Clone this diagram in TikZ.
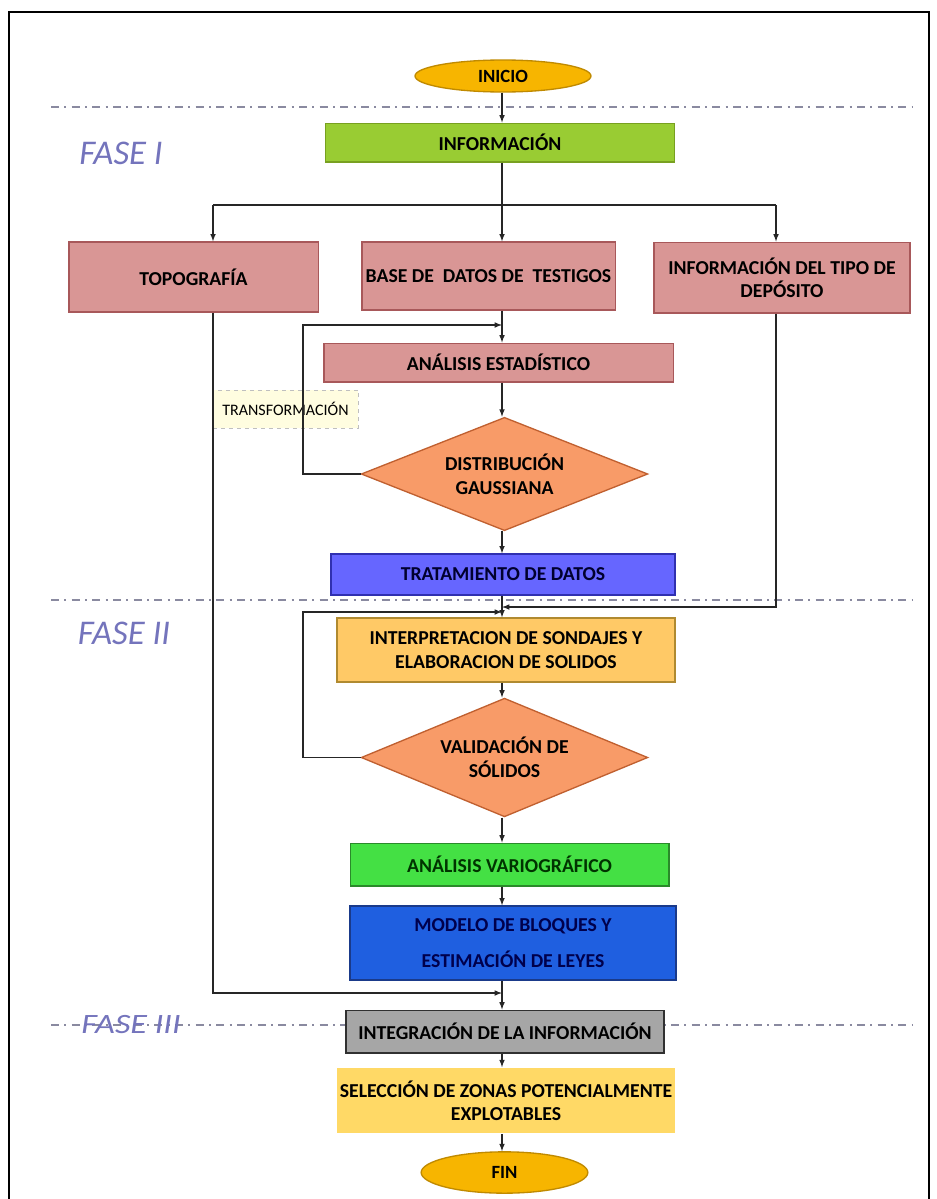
\documentclass[tikz,border=0pt]{standalone}
\usepackage{fontspec}
\setmainfont{Carlito}
\usetikzlibrary{positioning,shapes.geometric,arrows}

\definecolor{cini}{HTML}{F7B500}
\definecolor{cinib}{HTML}{C08A00}
\definecolor{cinfo}{HTML}{99CC33}
\definecolor{cinfob}{HTML}{78A020}
\definecolor{crosa}{HTML}{D99695}
\definecolor{crosab}{HTML}{A8585A}
\definecolor{cnar}{HTML}{F89B68}
\definecolor{cnarb}{HTML}{C06030}
\definecolor{cviol}{HTML}{6666FF}
\definecolor{cviolb}{HTML}{3030B0}
\definecolor{cama}{HTML}{FFC966}
\definecolor{camab}{HTML}{B08A30}
\definecolor{cverde}{HTML}{44E044}
\definecolor{cverdeb}{HTML}{2A8A2A}
\definecolor{cazul}{HTML}{1F5FE0}
\definecolor{cazulb}{HTML}{1A3A8A}
\definecolor{cgris}{HTML}{A6A6A6}
\definecolor{cgrisb}{HTML}{303030}
\definecolor{csel}{HTML}{FFD966}
\definecolor{cfase}{HTML}{7474BC}
\definecolor{clinea}{HTML}{8A8AA0}

\begin{document}
\begin{tikzpicture}[x=0.75pt,y=-0.75pt,>=latex,
    caja/.style={draw, rectangle, line width=1pt, inner sep=2pt, align=center,
      font=\fontsize{14.8}{17.5}\selectfont\bfseries},
    term/.style={draw=cinib, fill=cini, ellipse, line width=1pt, inner sep=0pt,
      font=\fontsize{14}{16}\selectfont\bfseries},
    decis/.style={draw=cnarb, fill=cnar, diamond, shape aspect=2.5, line width=1pt,
      inner sep=0pt, align=center, font=\fontsize{14.8}{18}\selectfont\bfseries},
    nota/.style={draw=gray!50, dashed, fill=yellow!12, inner sep=0pt,
      font=\fontsize{12}{14}\selectfont},
    fase/.style={text=cfase, font=\fontsize{26}{28}\selectfont\itshape},
    faseline/.style={draw=clinea, line width=1.2pt,
      dash pattern=on 6pt off 4pt on 1.5pt off 4pt},
    flecha/.style={draw=black!85, line width=0.9pt}]
  \useasboundingbox (0,0) rectangle (936,1199);
  \draw[line width=1.3pt] (9,1215) -- (9,12) -- (929,12) -- (929,1215);

  % lineas de fase
  \draw[faseline] (51,107) -- (913,107);
  \draw[faseline] (51,600) -- (913,600);
  \draw[faseline] (51,1025) -- (913,1025);

  \node[fase] (f1) at (121,153) {FASE I};
  \node[fase] (f2) at (124,633) {FASE II};
  \node[fase, font=\fontsize{21}{24}\selectfont\itshape] (f3) at (131,1025)
    {\scalebox{1.22}[1]{FASE III}};

  % nodos
  \node[term, minimum width=132pt, minimum height=24pt] (inicio) at (503,76) {INICIO};
  \node[caja, fill=cinfo, draw=cinfob, minimum width=262pt, minimum height=29pt]
    (informacion) at (500,142.5) {INFORMACIÓN};
  \node[caja, fill=crosa, draw=crosab, minimum width=187pt, minimum height=52.5pt]
    (topo) at (193.5,277) {TOPOGRAFÍA};
  \node[caja, fill=crosa, draw=crosab, minimum width=190pt, minimum height=51pt]
    (base) at (488.5,276) {BASE DE \ DATOS DE \ TESTIGOS};
  \node[caja, fill=crosa, draw=crosab, minimum width=192pt, minimum height=53pt]
    (tipo) at (782,277.5) {INFORMACIÓN DEL TIPO DE\\DEPÓSITO};
  \node[caja, fill=crosa, draw=crosab, minimum width=262pt, minimum height=29pt]
    (estad) at (498.5,362.5) {ANÁLISIS ESTADÍSTICO};
  \node[nota, minimum width=109pt, minimum height=28.5pt] (transf) at (285.5,409)
    {TRANSFORMACIÓN};
  \node[decis, minimum width=215pt, minimum height=85pt] (gauss) at (504.5,474)
    {DISTRIBUCIÓN\\GAUSSIANA};
  \node[caja, fill=cviol, draw=cviolb, text=black!70!blue!60!black,
    minimum width=258pt, minimum height=30.75pt] (tratam) at (503,574.5)
    {TRATAMIENTO DE DATOS};
  \node[caja, fill=cama, draw=camab, minimum width=253.5pt, minimum height=48pt]
    (interp) at (506,650) {INTERPRETACION DE SONDAJES Y\\ELABORACION DE SOLIDOS};
  \node[decis, minimum width=215pt, minimum height=89pt] (valid) at (504.5,757.5)
    {VALIDACIÓN DE\\SÓLIDOS};
  \node[caja, fill=cverde, draw=cverdeb, text=green!20!black,
    minimum width=239pt, minimum height=32pt] (vario) at (509.5,864.5)
    {ANÁLISIS VARIOGRÁFICO};
  \node[caja, fill=cazul, draw=cazulb, text=blue!30!black,
    minimum width=244.5pt, minimum height=55.5pt] (modelo) at (513,943)
    {MODELO DE BLOQUES Y\\[10pt]ESTIMACIÓN DE LEYES};
  \node[caja, fill=cgris, draw=cgrisb, minimum width=238.5pt, minimum height=32pt]
    (integ) at (505,1031.5) {INTEGRACIÓN DE LA INFORMACIÓN};
  \node[caja, fill=csel, draw=none, minimum width=253.5pt, minimum height=49pt]
    (selec) at (506,1100.5) {SELECCIÓN DE ZONAS POTENCIALMENTE\\EXPLOTABLES};
  \node[term, minimum width=125pt, minimum height=31pt] (fin) at (504.5,1172.5) {FIN};

  % puntos de paso
  \coordinate (eje) at (502,0);
  \coordinate (jl) at (213,205);
  \coordinate (jr) at (776,205);
  \coordinate (lz) at (303,325);
  \coordinate (m1) at (0,607);
  \coordinate (m2) at (303,612);
  \coordinate (m3) at (0,993);

  % conectores
  \draw[flecha, ->] (eje |- inicio.south) -- (eje |- informacion.north);
  \draw[flecha] (eje |- informacion.south) -- (eje |- jl);
  \draw[flecha] (jl) -- (jr);
  \draw[flecha, ->] (jl) -- (jl |- topo.north);
  \draw[flecha, ->] (eje |- jl) -- (eje |- base.north);
  \draw[flecha, ->] (jr) -- (jr |- tipo.north);
  \draw[flecha, ->] (eje |- base.south) -- (eje |- estad.north);
  \draw[flecha, ->] (eje |- estad.south) -- (eje |- gauss.north);
  \draw[flecha, ->] (gauss.west) -| (lz) -- (eje |- lz);
  \draw[flecha, ->] (eje |- gauss.south) -- (eje |- tratam.north);
  \draw[flecha, ->] (eje |- tratam.south) -- (eje |- interp.north);
  \draw[flecha, ->] (jr |- tipo.south) -- (jr |- m1) -- (eje |- m1);
  \draw[flecha, ->] (valid.west) -| (m2) -- (eje |- m2);
  \draw[flecha, ->] (eje |- interp.south) -- (eje |- valid.north);
  \draw[flecha, ->] (eje |- valid.south) -- (eje |- vario.north);
  \draw[flecha, ->] (eje |- vario.south) -- (eje |- modelo.north);
  \draw[flecha, ->] (eje |- modelo.south) -- (eje |- integ.north);
  \draw[flecha, ->] (jl |- topo.south) -- (jl |- m3) -- (eje |- m3);
  \draw[flecha, ->] (eje |- integ.south) -- (eje |- selec.north);
  \draw[flecha, ->] (eje |- selec.south) -- (eje |- fin.north);
\end{tikzpicture}
\end{document}
